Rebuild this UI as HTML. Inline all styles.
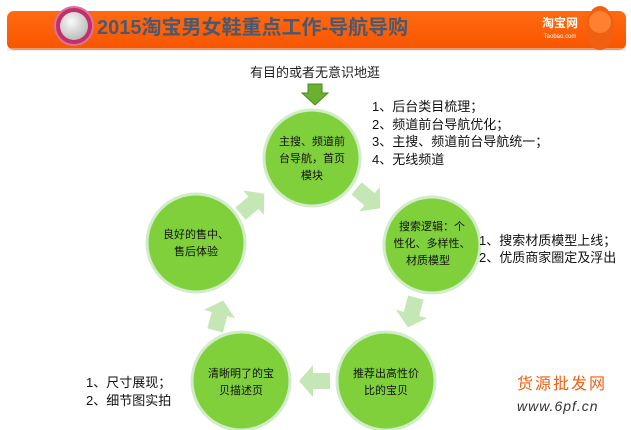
<!DOCTYPE html>
<html><head><meta charset="utf-8"><style>
body{margin:0;width:631px;height:430px;background:#fff;overflow:hidden;font-family:"Liberation Sans","Noto Sans CJK SC",sans-serif}
</style></head><body>
<svg width="631" height="430" xmlns="http://www.w3.org/2000/svg" style="position:absolute;left:0;top:0">
<defs>
<linearGradient id="ob" x1="0" y1="0" x2="0" y2="1"><stop offset="0" stop-color="#ff6a10"/><stop offset="1" stop-color="#f85500"/></linearGradient>
<radialGradient id="gb" cx="0.4" cy="0.35" r="0.7"><stop offset="0" stop-color="#fafafa"/><stop offset="1" stop-color="#b8b8b8"/></radialGradient>
<polygon id="ar" points="-15,-8 2,-8 2,-16 16,0 2,16 2,8 -15,8" fill="#c5e6b5"/>
</defs>
<rect x="7" y="11" width="619" height="39" rx="7" fill="url(#ob)"/>
<rect x="7" y="48" width="619" height="3" fill="#ddd" opacity="0.5"/>
<circle cx="74" cy="26" r="19" fill="#c0306a" stroke="#e070a0" stroke-width="2"/>
<circle cx="74" cy="26" r="14" fill="url(#gb)"/>
<text x="97" y="34" font-size="20" font-weight="bold" fill="#4a5870">2015淘宝男女鞋重点工作-导航导购</text>
<text x="560" y="27" font-size="12" font-weight="bold" fill="#fff" text-anchor="middle" font-family="Noto Sans CJK SC,sans-serif">淘宝网</text>
<text x="560" y="38" font-size="6" fill="#fff" text-anchor="middle">Taobao.com</text>
<ellipse cx="600" cy="28" rx="14" ry="22" fill="#f06010"/>
<circle cx="600" cy="22" r="11" fill="#ff8030"/>

<text x="315" y="77" font-size="13" fill="#222" text-anchor="middle">有目的或者无意识地逛</text>
<polygon points="308,84 322,84 322,93 328,93 315,105 302,93 308,93" fill="#6bb030" stroke="#4a8a20" stroke-width="1"/>

<use href="#ar" transform="translate(368,198) rotate(40)"/>
<use href="#ar" transform="translate(412,312) rotate(105)"/>
<use href="#ar" transform="translate(315,381) rotate(180)"/>
<use href="#ar" transform="translate(219,316) rotate(-75)"/>
<use href="#ar" transform="translate(252,204) rotate(-40)"/>

<g fill="#80d03c" stroke="#d0ecc8" stroke-width="3">
<circle cx="312" cy="158" r="48"/>
<circle cx="432" cy="245" r="48"/>
<circle cx="386" cy="381" r="49"/>
<circle cx="241" cy="381" r="49"/>
<circle cx="196" cy="243" r="49"/>
</g>
<g font-size="11" fill="#111" text-anchor="middle">
<text x="312" y="145">主搜、频道前</text><text x="312" y="162">台导航，首页</text><text x="312" y="179">模块</text>
<text x="432" y="230">搜索逻辑：个</text><text x="432" y="247">性化、多样性、</text><text x="428" y="264">材质模型</text>
<text x="386" y="377">推荐出高性价</text><text x="386" y="394">比的宝贝</text>
<text x="241" y="377">清晰明了的宝</text><text x="241" y="394">贝描述页</text>
<text x="196" y="238">良好的售中、</text><text x="196" y="255">售后体验</text>
</g>
<g font-size="13" fill="#111">
<text x="372" y="111">1、后台类目梳理；</text>
<text x="372" y="129">2、频道前台导航优化；</text>
<text x="372" y="146">3、主搜、频道前台导航统一；</text>
<text x="372" y="164">4、无线频道</text>
<text x="479" y="245">1、搜索材质模型上线；</text>
<text x="479" y="262">2、优质商家圈定及浮出</text>
<text x="86" y="387">1、尺寸展现；</text>
<text x="86" y="405">2、细节图实拍</text>
</g>
<text x="517" y="389" font-size="16" fill="#f06010" letter-spacing="2">货源批发网</text>
<text x="517" y="411" font-size="14" fill="#333" font-style="italic" letter-spacing="1">www.6pf.cn</text>
</svg>
</body></html>
